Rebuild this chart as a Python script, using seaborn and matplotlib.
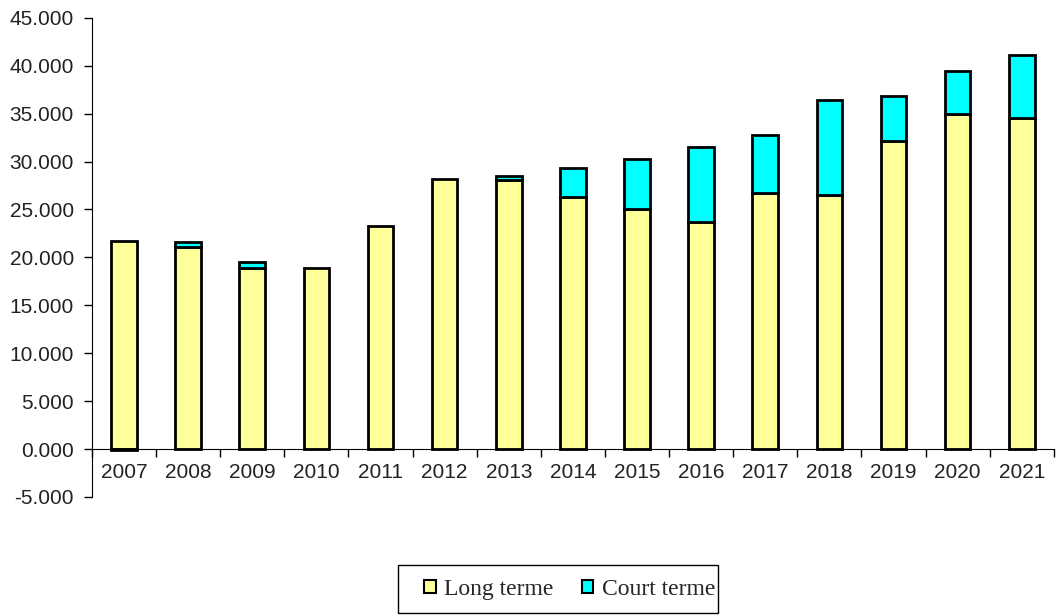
import numpy as np
import pandas as pd
import matplotlib.pyplot as plt
import seaborn as sns
from matplotlib.patches import Patch, Rectangle
from matplotlib.ticker import FuncFormatter, FixedLocator

# values
years = ['2007', '2008', '2009', '2010', '2011', '2012', '2013', '2014',
         '2015', '2016', '2017', '2018', '2019', '2020', '2021']
long_terme = [21.7, 21.1, 18.85, 18.9, 23.3, 28.2, 28.05, 26.3,
              25.05, 23.7, 26.7, 26.5, 32.15, 35.0, 34.5]
court_terme = [-0.1, 0.5, 0.7, 0.0, 0.0, 0.0, 0.45, 3.0,
               5.2, 7.8, 6.1, 9.9, 4.65, 4.4, 6.6]
y_ticks = [-5, 0, 5, 10, 15, 20, 25, 30, 35, 40, 45]

yellow = '#FFFF99'
cyan = '#00FFFF'

df = pd.DataFrame({'year': years, 'long': long_terme, 'court': court_terme})

sns.set_style('white')
plt.rcParams['font.family'] = ['Liberation Sans', 'DejaVu Sans']

fig = plt.figure(figsize=(10.57, 6.15), dpi=100)
ax = fig.add_axes([0.087, 0.192, 0.910, 0.779])

bar_w = 0.4
sns.barplot(data=df, x='year', y='long', color=yellow, width=bar_w,
            edgecolor='black', linewidth=2, saturation=1, ax=ax)

# court terme stacked on top (negatives from zero, like Excel)
court = np.array(court_terme)
bottoms = np.where(court >= 0, np.array(long_terme), 0)
mask = court != 0
ax.bar(np.arange(len(years))[mask], court[mask], bottom=bottoms[mask],
       width=bar_w, color=cyan, edgecolor='black', linewidth=2)

ax.set_xlim(-0.5, len(years) - 0.5)
ax.set_ylim(-5, 45)
ax.set_xlabel('')
ax.set_ylabel('')

ax.set_yticks(y_ticks)
ax.yaxis.set_major_formatter(FuncFormatter(lambda v, p: f'{v:.3f}'.replace('-0.000', '0.000')))
ax.tick_params(axis='y', left=True, length=6, width=1, color='black',
               labelsize=15, pad=7, direction='out', labelcolor='#222222')

# x axis sits on zero, ticks between categories
for s in ['top', 'right']:
    ax.spines[s].set_visible(False)
ax.spines['left'].set_color('black')
ax.spines['bottom'].set_color('black')
ax.spines['bottom'].set_position(('data', 0))
ax.xaxis.set_minor_locator(FixedLocator(np.arange(-0.5, len(years), 1.0)))
ax.tick_params(axis='x', which='major', length=0, labelsize=15, pad=10,
               labelcolor='#222222')
ax.tick_params(axis='x', which='minor', bottom=True, length=6, width=1,
               color='black', direction='out')

# legend box drawn separately so horizontal padding matches
fig.patches.append(Rectangle((0.3765, 0.0033), 0.3027, 0.078, transform=fig.transFigure,
                             facecolor='white', edgecolor='black', linewidth=1))
handles = [Patch(facecolor=yellow, edgecolor='black', linewidth=1.5, label='Long terme'),
           Patch(facecolor=cyan, edgecolor='black', linewidth=1.5, label='Court terme')]
leg = fig.legend(handles=handles, loc='center', bbox_to_anchor=(0.5388, 0.042),
                 ncol=2, frameon=False,
                 prop={'family': 'Liberation Serif', 'size': 17},
                 handlelength=0.5, handleheight=0.5, handletextpad=0.35,
                 columnspacing=1.2, borderpad=0.55, borderaxespad=0)

fig.savefig('out.png', dpi=100)
